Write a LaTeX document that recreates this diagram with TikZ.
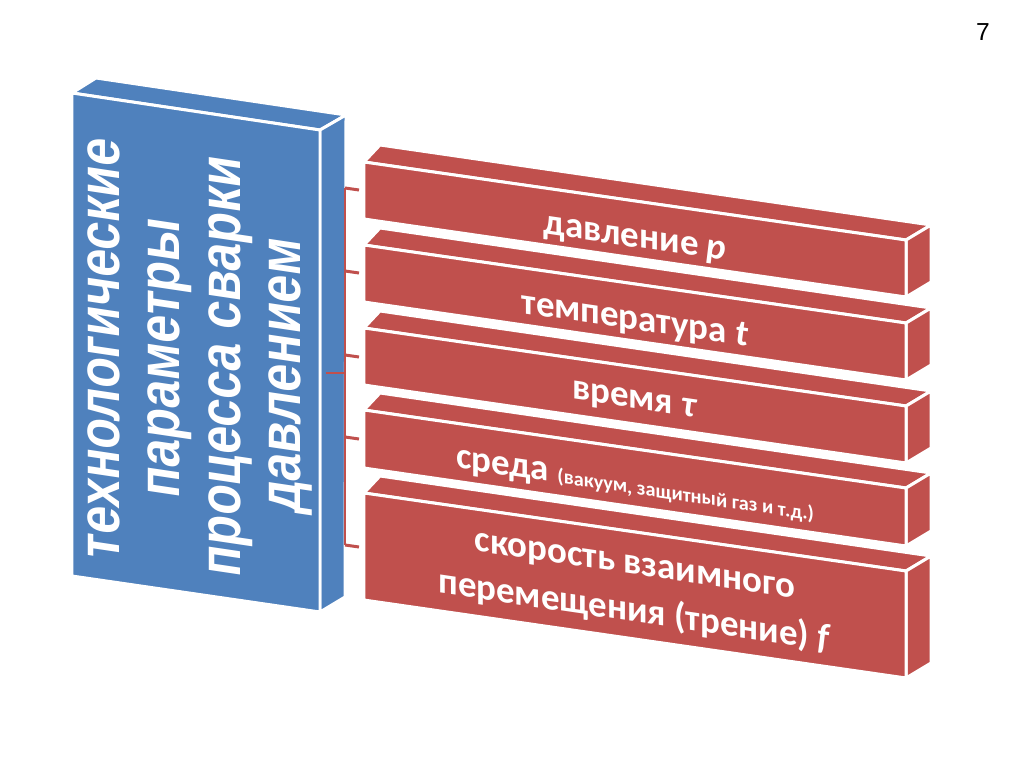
\documentclass[tikz,border=0pt]{standalone}
\usepackage{fontspec}
\setmainfont{Carlito}
\newfontfamily\pagefont{Liberation Sans}
\usetikzlibrary{calc}
\definecolor{boxblue}{RGB}{79,129,189}
\definecolor{boxred}{RGB}{192,80,77}

\begin{document}
\begin{tikzpicture}[x=0.02cm,y=0.02cm,
  face/.style={draw=white,line width=1.7pt,line join=round},
  brace/.style={draw=boxred,line width=1.7pt},
  itemtxt/.style={text=white,align=center,yslant=-0.147,
    font=\fontsize{21}{27}\selectfont\bfseries}]
  \useasboundingbox[fill=white] (0,0) rectangle (1024,-767);
  % blue box
  \fill[face,fill=boxblue] (72,-93) -- (96,-78) -- (346,-115) -- (320,-130) -- cycle;
  \fill[face,fill=boxblue] (320,-130) -- (346,-115) -- (345,-597) -- (320,-612) -- cycle;
  \fill[face,fill=boxblue] (72,-93) -- (320,-130) -- (320,-612) -- (72,-576) -- cycle;
  \node[text=white,align=center,font=\pagefont\fontsize{28.5}{29}\selectfont\bfseries,
    yslant=-0.149,rotate=90,yscale=1.18] (title) at (200,-363)
    {технологические\\параметры\\процесса сварки\\давлением};
  % red boxes
  \foreach \t/\h in {162/57,245/57,328/57,410/58,493/107} {
    \fill[face,fill=boxred] (364,-\t) -- (380,{-\t+17}) -- (931,{-\t-63})
      -- (906,{-\t-78}) -- cycle;
    \fill[face,fill=boxred] (906,{-\t-78}) -- (931,{-\t-63}) -- (931,{-\t-63-\h})
      -- (906,{-\t-78-\h}) -- cycle;
    \fill[face,fill=boxred] (364,-\t) -- (906,{-\t-78}) -- (906,{-\t-78-\h})
      -- (364,{-\t-\h}) -- cycle;
  }
  \node[itemtxt] (pres) at (635,-241) {давление \textit{p}};
  \node[itemtxt] (temp) at (635,-321) {температура \textit{t}};
  \node[itemtxt] (time) at (635,-402) {время \textit{τ}};
  \node[itemtxt] (env) at (635,-488)
    {среда {\fontsize{11.5}{13}\selectfont (вакуум, защитный газ и т.д.)}};
  \node[itemtxt] (speed) at (635,-592)
    {скорость взаимного\\перемещения (трение) \textit{f}};
  % bracket
  \foreach \i/\y in {1/188,2/271,3/355,4/437,5/545} {
    \coordinate (k\i) at (345,-\y);
    \coordinate (t\i) at (359,{-\y-2});
    \draw[brace] (k\i) -- (t\i);
  }
  \coordinate (mid) at (345,-373);
  \coordinate (hub) at (326,-373);
  \draw[brace] (k1) -- (k5);
  \draw[brace] (hub) -- (mid);
  \node[font=\pagefont\fontsize{14}{16}\selectfont] (pg) at (983,-32) {7};
\end{tikzpicture}
\end{document}
